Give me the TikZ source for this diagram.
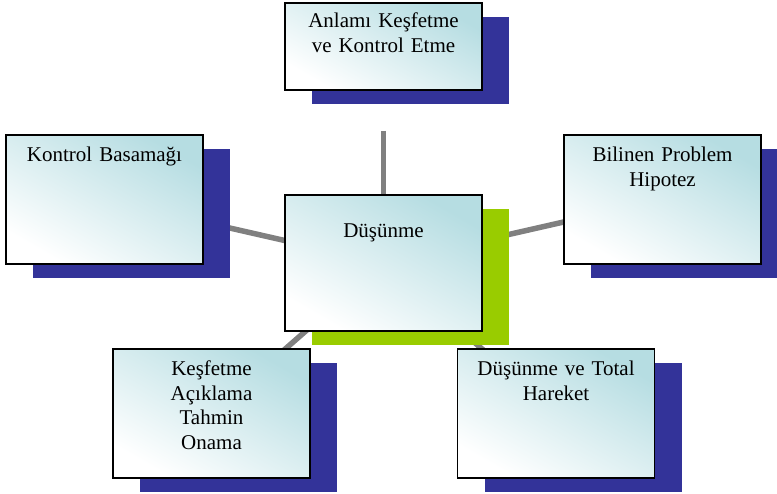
\documentclass[tikz,border=0pt]{standalone}
\usepackage{fontspec}
\setmainfont{Liberation Serif}
\usetikzlibrary{shadows, backgrounds}
\definecolor{shadowBlue}{RGB}{51,51,153}
\definecolor{shadowGreen}{RGB}{153,204,0}
\definecolor{boxCyan}{RGB}{182,221,226}
\definecolor{linkGray}{RGB}{128,128,128}
\tikzstyle{box} = [rectangle, draw=black, line width=1.6pt, inner sep=0pt, minimum width=197pt, text width=190pt, align=center, top color=boxCyan, middle color=boxCyan!15, bottom color=white, shading angle=-30, font=\fontsize{21}{24.5}\selectfont, general shadow={shadow xshift=27pt, shadow yshift=-14pt, fill=shadowBlue}]
\tikzstyle{boxSide} = [box, text height=27pt, text depth=102pt]
\tikzstyle{boxTop} = [box, text height=25pt, text depth=62pt]
\tikzstyle{boxMain} = [box, text height=43pt, text depth=93pt, general shadow={shadow xshift=27pt, shadow yshift=-14pt, fill=shadowGreen}]
\tikzstyle{link} = [line width=5.5pt, draw=linkGray]

\begin{document}
\begin{tikzpicture}[x=1pt, y=-1pt]
\useasboundingbox (0,0) rectangle (777,494);

\node (thinking) [boxMain] at (383.5,263) {Düşünme};
\node (exploreMeaning) [boxTop] at (383.5,46.5) {Anlamı Keşfetme\\ve Kontrol Etme};
\node (controlStep) [boxSide] at (104.5,199.5) {Kontrol Basamağı};
\node (knownProblem) [boxSide] at (662.5,199.5) {Bilinen Problem\\Hipotez};
\node (explainGuess) [boxSide] at (211.5,413.5) {Keşfetme\\Açıklama\\Tahmin\\Onama};
\node (totalMove) [boxSide] at (556,413.5) {Düşünme ve Total\\Hareket};
\coordinate (topEnd) at (383.5,131);

\begin{scope}[on background layer]
\draw [link] (topEnd) -- (thinking.center);
\draw [link] (thinking.center) -- (controlStep.center);
\draw [link] (thinking.center) -- (knownProblem.center);
\draw [link] (thinking.center) -- (explainGuess.center);
\draw [link] (thinking.center) -- (totalMove.center);
\end{scope}

\end{tikzpicture}
\end{document}
